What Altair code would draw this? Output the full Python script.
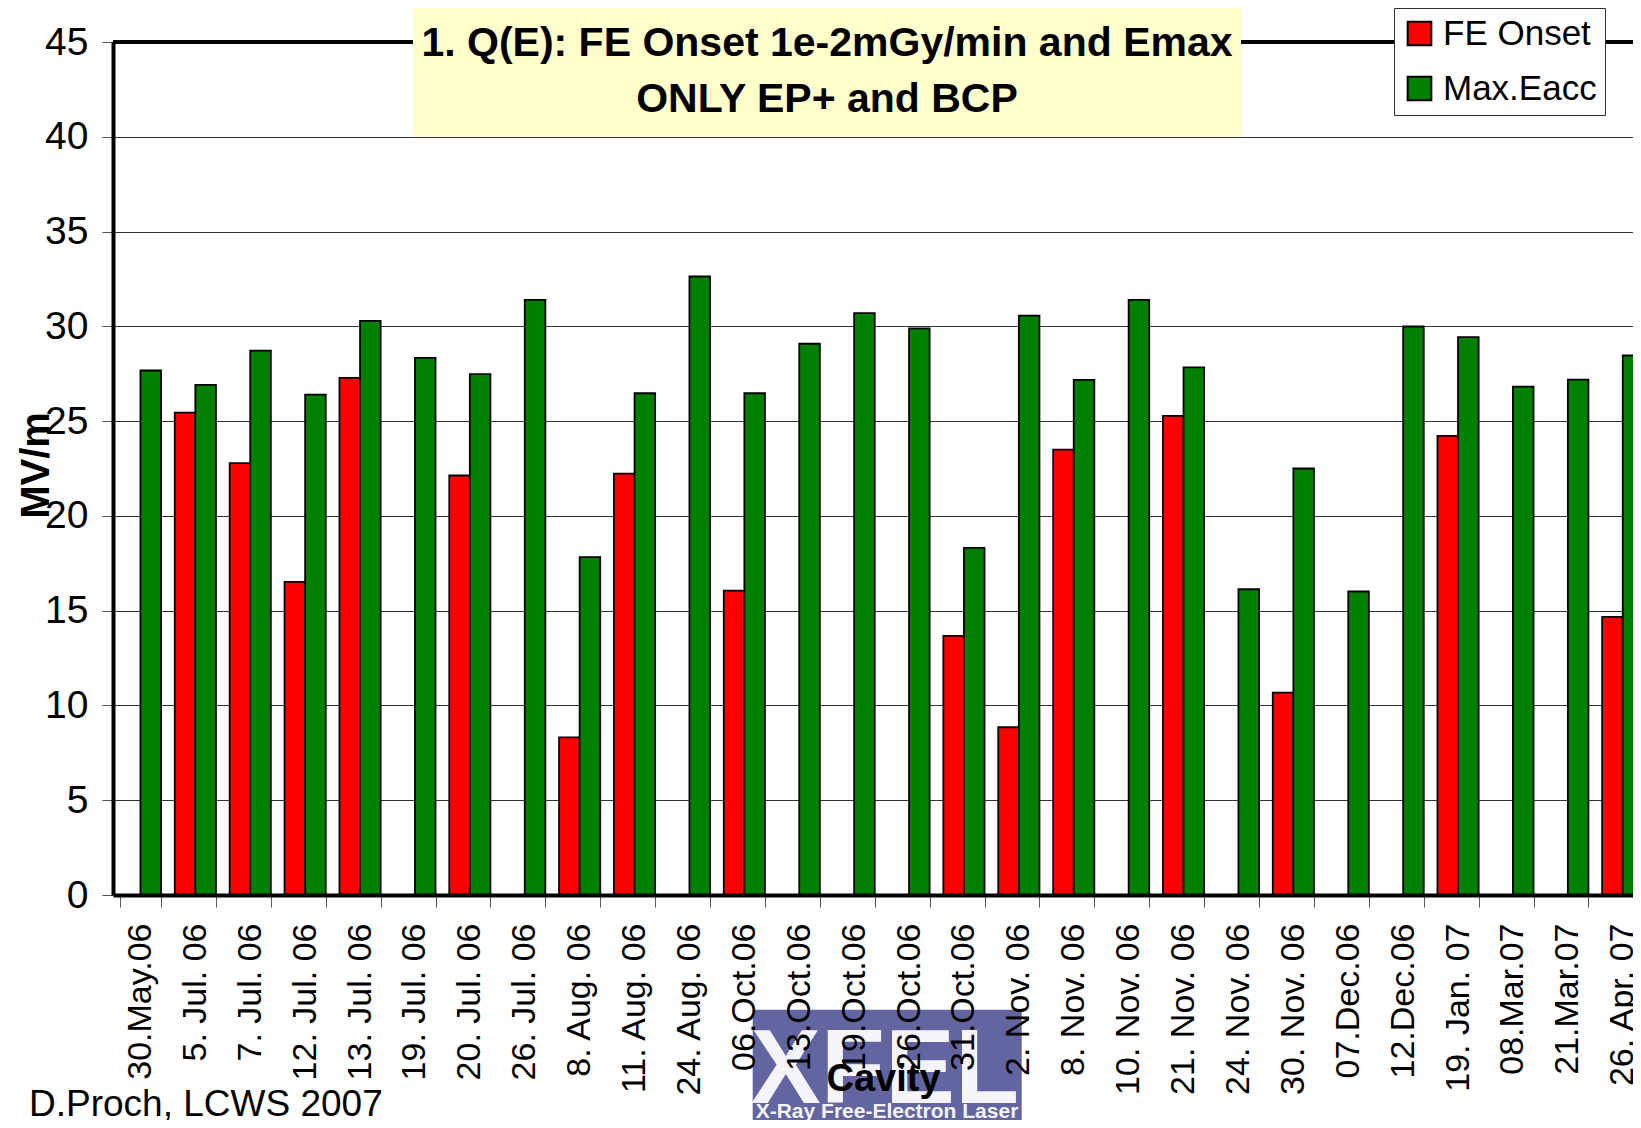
import altair as alt
import pandas as pd

# ---- data ----
dates = ["30.May.06", "5. Jul. 06", "7. Jul. 06", "12. Jul. 06", "13. Jul. 06",
         "19. Jul. 06", "20. Jul. 06", "26. Jul. 06", "8. Aug. 06", "11. Aug. 06",
         "24. Aug. 06", "06.Oct.06", "13.Oct.06", "19.Oct.06", "26.Oct.06",
         "31.Oct.06", "2. Nov. 06", "8. Nov. 06", "10. Nov. 06", "21. Nov. 06",
         "24. Nov. 06", "30. Nov. 06", "07.Dec.06", "12.Dec.06", "19. Jan. 07",
         "08.Mar.07", "21.Mar.07", "26. Apr. 07"]
fe_onset = [None, 25.45, 22.78, 16.52, 27.28, None, 22.13, None, 8.32, 22.23,
            None, 16.06, None, None, None, 13.67, 8.85, 23.50, None, 25.28,
            None, 10.68, None, None, 24.22, None, None, 14.67]
max_eacc = [27.67, 26.91, 28.72, 26.40, 30.29, 28.34, 27.48, 31.40, 17.82, 26.47,
            32.63, 26.47, 29.08, 30.70, 29.89, 18.31, 30.57, 27.18, 31.40, 27.83,
            16.13, 22.50, 16.01, 29.99, 29.43, 26.82, 27.19, 28.46]
series = ["FE Onset", "Max.Eacc"]
colors = ["#ff0000", "#008000"]
y_ticks = [0, 5, 10, 15, 20, 25, 30, 35, 40, 45]
title_lines = ["1. Q(E): FE Onset 1e-2mGy/min and Emax", "ONLY EP+ and BCP"]
FONT = "Liberation Sans"

rows = []
for d, f, m in zip(dates, fe_onset, max_eacc):
    if f is not None:
        rows.append({"Cavity": d, "Series": series[0], "Value": f})
    rows.append({"Cavity": d, "Series": series[1], "Value": m})
df = pd.DataFrame(rows)

W = 1520          # visible plot width
RANGE = 1537.2    # full category range (last one is cut by the page edge)
H = 853

yscale = alt.Scale(domain=[0, 45], nice=False, zero=True)

bars = alt.Chart(df).mark_bar(stroke="black", strokeWidth=1.8).encode(
    x=alt.X("Cavity:N", sort=dates,
            scale=alt.Scale(domain=dates, range=[0, RANGE],
                            paddingInner=0.25, paddingOuter=0.125),
            axis=alt.Axis(title="Cavity", titleFontSize=38, titleFontWeight="bold",
                          titleX=770, titleY=195, titleBaseline="alphabetic",
                          titleAlign="center", titleColor="black", titleFont=FONT,
                          labelAngle=-90, labelFontSize=34, labelPadding=16,
                          labelColor="black", labelFont=FONT,
                          tickSize=12, tickColor="#555555", tickWidth=1,
                          tickBand="extent",
                          domainColor="black", domainWidth=4, zindex=1)),
    xOffset=alt.XOffset("Series:N", sort=series,
                        scale=alt.Scale(domain=series, paddingInner=0, paddingOuter=0)),
    y=alt.Y("Value:Q", scale=yscale,
            axis=alt.Axis(values=y_ticks, title="MV/m", titleFontSize=40,
                          titleFontWeight="bold", titleAngle=-90, titleX=-65, titleY=423,
                          titleBaseline="alphabetic", titleAlign="center",
                          titleColor="black", titleFont=FONT,
                          labelFontSize=39, labelPadding=14, labelColor="black",
                          labelFont=FONT, tickSize=11, tickColor="#555555",
                          grid=True, gridColor="#333333", gridWidth=1,
                          domainColor="black", domainWidth=4, zindex=0)),
    color=alt.Color("Series:N", sort=series,
                    scale=alt.Scale(domain=series, range=colors),
                    legend=alt.Legend(orient="none", legendX=1281, legendY=-34,
                                      title=None, fillColor="white", strokeColor="#333333",
                                      padding=8, symbolType="square", symbolSize=560,
                                      symbolStrokeColor="black", symbolStrokeWidth=2,
                                      symbolOpacity=1,
                                      labelFontSize=35, labelFont=FONT, labelColor="black",
                                      labelOffset=6, rowPadding=19)),
)

# top border of the plot area at y = 45
top_rule = alt.Chart(pd.DataFrame({"v": [45]})).mark_rule(
    color="black", strokeWidth=4).encode(
    y=alt.Y("v:Q", scale=yscale), x=alt.value(0), x2=alt.value(RANGE))

# title box
title_box = alt.Chart(pd.DataFrame({"t": [title_lines[0]]})).mark_rect(
    fill="#ffffcc").encode(
    x=alt.value(300), x2=alt.value(1128), y=alt.value(-34.3), y2=alt.value(94.7))
title1 = alt.Chart(pd.DataFrame({"t": [title_lines[0]]})).mark_text(
    font=FONT, fontSize=41, fontWeight="bold", color="black",
    align="center", baseline="alphabetic").encode(
    text="t:N", x=alt.value(714), y=alt.value(14))
title2 = alt.Chart(pd.DataFrame({"t": [title_lines[1]]})).mark_text(
    font=FONT, fontSize=41, fontWeight="bold", color="black",
    align="center", baseline="alphabetic").encode(
    text="t:N", x=alt.value(714), y=alt.value(70))

# footer text
footer = alt.Chart(pd.DataFrame({"t": ["D.Proch, LCWS 2007"]})).mark_text(
    font=FONT, fontSize=37, color="black", align="left", baseline="alphabetic").encode(
    text="t:N", x=alt.value(-84), y=alt.value(1074))

# XFEL logo
logo_rect = alt.Chart(pd.DataFrame({"t": ["logo"]})).mark_rect(fill="#62659f").encode(
    x=alt.value(639.7), x2=alt.value(908.7), y=alt.value(967.7), y2=alt.value(1090))
logo_big = alt.Chart(pd.DataFrame({"t": ["XFEL"]})).mark_text(
    font=FONT, fontSize=105, fontWeight="bold", color="#f4f4fa",
    align="center", baseline="alphabetic").encode(
    text="t:N", x=alt.value(772), y=alt.value(1060.7))
logo_small = alt.Chart(pd.DataFrame({"t": ["X-Ray Free-Electron Laser"]})).mark_text(
    font=FONT, fontSize=21, fontWeight="bold", color="#f4f4fa",
    align="center", baseline="alphabetic").encode(
    text="t:N", x=alt.value(774), y=alt.value(1076))

chart = alt.layer(
    logo_rect, logo_big, logo_small, top_rule, bars,
    title_box, title1, title2, footer
).properties(
    width=W, height=H,
    autosize=alt.AutoSizeParams(type="none"),
    padding={"left": 105, "top": 34, "right": 0, "bottom": 225},
).configure(
    font=FONT, background="white"
).configure_view(
    stroke=None
)

chart.save("out.html", embed_options={"renderer": "svg", "actions": False})
